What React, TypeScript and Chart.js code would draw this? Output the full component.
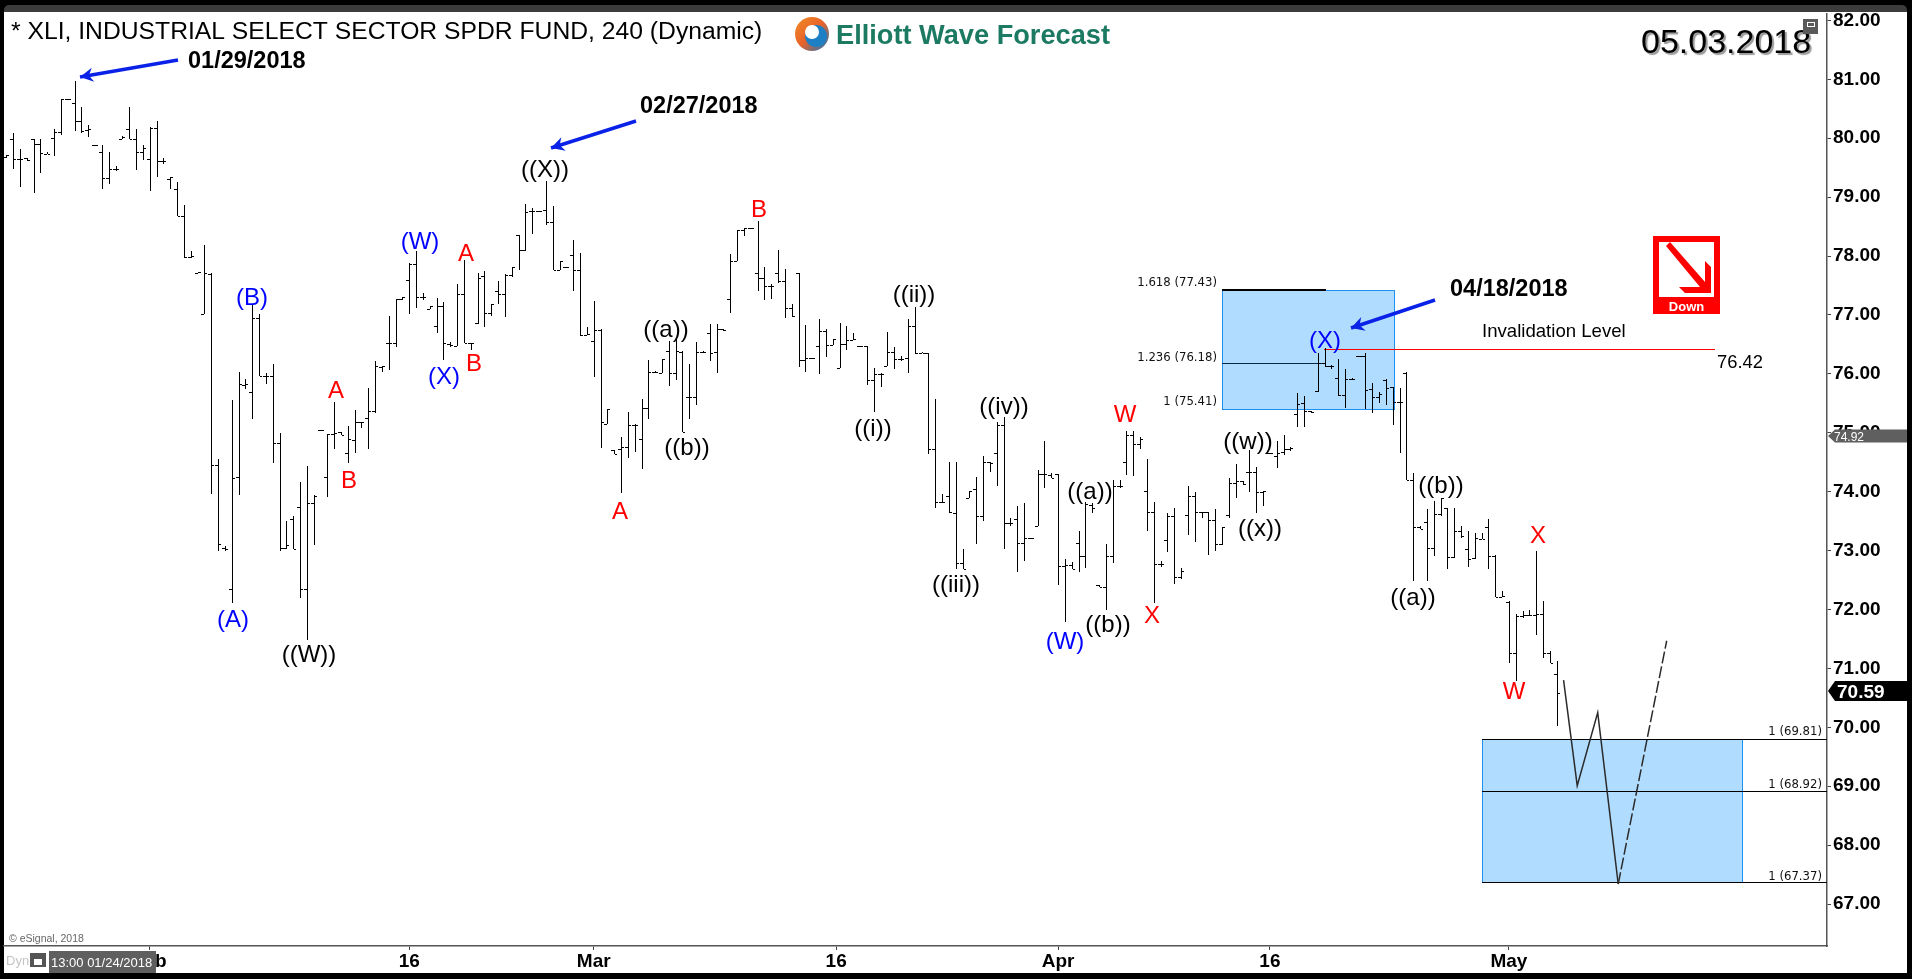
import { Chart, registerables } from "chart.js";
import { useEffect, useRef } from "react";

Chart.register(...registerables);

// 240 minute bars
const opens = [
  79.68,79.99,79.64,79.66,79.98,79.91,79.74,80.01,80.10,80.67,
  80.60,80.30,80.14,79.88,79.76,79.32,79.47,79.98,80.15,79.98,
  79.76,79.64,80.17,79.62,79.31,79.13,78.68,77.98,77.71,77.01,
  77.69,74.46,73.04,72.34,74.25,75.81,75.69,76.95,75.96,75.97,
  74.83,73.04,73.54,73.74,72.34,73.81,75.05,74.25,74.98,75.01,
  74.66,74.88,75.19,75.25,75.37,76.12,76.52,76.52,77.27,77.59,
  77.87,77.31,77.10,76.81,77.16,76.51,76.47,77.35,76.52,76.86,
  77.66,77.03,77.40,77.35,77.68,78.36,78.10,78.76,78.76,78.79,
  78.57,77.77,77.81,78.01,77.76,76.66,76.56,76.75,75.15,74.70,
  74.73,74.76,75.13,74.89,75.42,76.03,76.02,76.39,76.01,76.37,
  75.60,75.60,76.37,76.69,76.37,76.76,77.27,77.91,78.44,78.47,
  77.71,77.62,77.49,77.71,77.57,77.11,77.71,76.23,76.27,76.47,
  76.73,76.49,76.10,76.50,76.58,76.47,76.47,75.90,75.99,76.14,
  76.37,76.25,76.27,76.81,76.35,76.35,74.72,73.82,73.93,73.64,
  72.79,73.90,74.05,73.59,74.50,74.66,75.14,73.47,73.53,73.13,
  73.21,73.42,74.30,74.29,74.30,72.74,72.75,73.13,72.91,73.78,
  72.42,72.39,72.91,74.09,74.50,74.96,74.81,74.01,73.65,72.77,
  73.18,73.59,72.55,73.60,73.93,73.65,73.65,73.52,73.12,73.61,
  74.15,74.18,74.33,74.34,74.00,74.66,74.60,74.68,74.73,75.32,
  75.50,75.37,75.71,76.18,76.14,75.93,75.64,75.92,76.31,76.31,
  75.74,75.60,75.89,75.77,75.53,76.02,74.19,73.40,73.48,73.05,
  73.62,73.72,72.89,73.33,73.02,72.88,73.20,73.40,72.91,72.21,
  72.12,71.27,71.89,71.90,71.90,71.93,71.27,70.91,
];
const highs = [
  79.72,80.09,79.81,79.67,79.98,79.98,79.77,80.16,80.67,80.67,
  80.97,80.53,80.22,79.88,79.88,79.76,79.53,80.03,80.53,80.16,
  79.89,80.19,80.29,79.66,79.35,79.25,78.86,78.09,77.73,78.18,
  77.71,74.56,73.08,75.56,76.03,75.92,77.17,77.02,76.02,76.16,
  75.00,73.51,73.59,74.17,74.44,73.94,75.05,74.98,75.53,75.01,
  75.12,75.39,75.19,75.76,76.21,76.13,76.99,77.27,77.30,77.89,
  78.09,77.37,77.16,77.29,77.22,76.54,77.52,77.93,76.53,77.71,
  77.75,77.19,77.58,77.69,77.81,78.36,78.89,78.81,78.76,79.28,
  78.85,77.92,77.81,78.27,78.05,76.79,77.24,76.76,75.41,74.70,
  74.92,75.36,75.15,75.58,76.23,76.05,76.25,76.56,76.60,76.38,
  76.16,76.54,76.38,76.85,76.85,76.77,78.03,78.45,78.47,78.47,
  78.59,77.81,77.52,78.10,77.78,77.18,77.71,76.83,76.27,76.93,
  76.76,76.60,76.86,76.81,76.70,76.47,76.47,76.10,76.02,76.71,
  76.46,76.30,76.93,77.14,76.37,76.35,75.58,73.96,74.51,74.51,
  73.03,74.02,74.25,74.61,74.51,75.18,75.26,73.56,73.75,73.81,
  73.21,74.36,74.86,74.32,74.30,72.85,72.80,73.34,73.83,73.80,
  72.42,73.12,74.19,74.20,75.03,75.03,74.92,74.56,73.83,72.83,
  73.64,73.72,72.71,74.10,74.00,73.66,73.66,73.71,73.40,74.24,
  74.47,74.18,74.71,74.42,74.02,74.66,74.86,74.97,74.76,75.68,
  75.63,75.37,76.35,76.44,76.15,76.25,76.08,75.93,76.31,76.35,
  75.84,75.70,75.91,75.78,75.76,76.04,74.32,73.41,73.71,73.85,
  73.89,73.72,73.72,73.41,73.34,73.30,73.30,73.54,72.93,72.32,
  72.14,71.93,71.98,72.00,73.00,72.15,71.30,71.13,
];
const lows = [
  79.67,79.48,79.18,79.62,79.07,79.41,79.73,79.70,80.05,80.67,
  80.12,80.09,80.02,79.88,79.13,79.22,79.44,79.98,79.98,79.46,
  79.63,79.11,79.35,79.57,79.14,78.68,77.97,77.96,77.71,77.01,
  73.96,73.00,73.00,72.11,73.94,75.74,75.24,75.96,75.82,74.48,
  72.99,73.02,73.02,72.19,71.48,73.10,75.05,73.91,74.73,74.96,
  74.48,74.65,75.08,74.72,75.33,76.03,76.07,76.45,77.25,77.02,
  77.12,77.25,77.10,76.70,76.24,76.46,76.47,76.52,76.41,76.84,
  76.80,76.98,77.18,76.97,77.64,77.77,78.09,78.37,78.76,78.53,
  77.77,77.76,77.81,77.41,76.64,76.66,75.94,74.75,75.15,74.64,
  73.97,74.58,74.67,74.38,75.24,76.01,76.02,75.79,75.89,75.01,
  75.24,75.47,76.35,76.22,76.02,76.72,77.03,77.91,78.34,78.47,
  77.41,77.26,77.27,77.55,76.95,76.97,76.12,76.04,76.27,75.99,
  76.29,76.49,76.10,76.41,76.58,76.47,75.81,75.36,75.78,76.14,
  76.09,76.21,76.02,76.34,76.35,74.64,73.72,73.80,73.64,72.68,
  72.68,73.90,73.12,73.50,74.34,74.09,73.03,73.42,72.63,72.82,
  73.21,73.42,74.07,74.23,72.41,71.78,72.69,72.63,72.70,73.63,
  72.39,72.00,72.79,74.07,74.29,74.27,74.73,73.34,72.11,72.72,
  72.97,72.43,72.51,73.27,73.14,73.56,72.92,72.99,73.10,73.56,
  73.89,74.12,74.00,73.63,73.75,74.66,74.41,74.63,74.69,75.09,
  75.09,75.33,75.70,76.12,76.09,75.63,75.42,75.89,76.31,75.40,
  75.33,75.50,75.47,75.14,74.65,74.19,72.48,73.36,72.48,72.90,
  73.59,72.68,72.88,73.21,72.72,72.85,73.19,72.68,72.21,72.21,
  71.09,70.78,71.86,71.89,71.56,71.17,71.09,70.02,
];
const closes = [
  79.72,79.64,79.65,79.63,79.91,79.75,79.74,80.10,80.67,80.67,
  80.30,80.12,80.15,79.88,79.32,79.47,79.48,80.02,79.98,79.76,
  79.84,80.17,79.62,79.62,79.35,78.68,77.98,78.00,77.73,77.71,
  74.46,73.12,73.02,74.24,75.82,75.82,76.95,75.96,75.97,74.83,
  73.04,73.09,73.03,72.34,73.81,73.92,75.05,74.98,75.00,74.97,
  74.90,75.19,75.18,75.37,76.13,76.13,76.52,77.27,77.30,77.87,
  77.31,77.31,77.16,77.16,76.53,76.49,77.35,76.52,76.52,77.63,
  77.03,77.18,77.35,77.68,77.81,78.10,78.75,78.76,78.76,78.57,
  77.77,77.92,77.81,77.76,76.66,76.67,76.75,75.18,75.41,74.64,
  74.76,75.13,75.14,75.42,76.04,76.03,76.25,76.01,76.38,75.01,
  75.60,76.37,76.37,76.36,76.76,76.75,77.91,78.44,78.47,78.47,
  77.62,77.49,77.49,77.57,77.11,76.98,76.23,76.27,76.27,76.73,
  76.49,76.60,76.50,76.57,76.59,76.47,75.90,75.99,76.00,76.37,
  76.25,76.25,76.81,76.35,76.36,74.72,73.82,73.82,73.65,72.79,
  72.68,74.02,73.59,74.51,74.49,75.14,73.47,73.47,73.13,73.21,
  73.21,74.30,74.30,74.24,72.74,72.76,72.69,72.91,73.79,73.73,
  72.39,72.90,74.09,74.10,74.96,74.81,74.90,73.65,72.77,72.77,
  73.59,72.55,72.65,73.93,73.66,73.65,73.52,73.12,73.40,74.15,
  74.18,74.13,74.34,74.00,74.01,74.66,74.66,74.73,74.74,75.49,
  75.37,75.36,76.18,76.14,76.14,75.64,75.92,75.92,76.31,75.72,
  75.60,75.66,75.76,75.53,75.53,74.19,73.40,73.37,73.05,73.62,
  73.89,72.89,73.33,73.25,72.86,73.21,73.20,72.91,72.21,72.23,
  71.27,71.89,71.91,71.90,71.93,71.27,71.09,70.59,
];

const yTickValues = [67, 68, 69, 70, 71, 72, 73, 74, 75, 76, 77, 78, 79, 80, 81, 82];
const xTickValues = [21, 59, 86, 121.5, 154, 185, 220];
const xTickLabels = ["Feb", "16", "Mar", "16", "Apr", "16", "May"];

// forecast path after the last bar
const pathX = [228, 230, 233, 236];
const pathY = [70.8, 69.01, 70.25, 67.34];
const dashX = [236, 243.1];
const dashY = [67.34, 71.47];

const invalidation = 76.42;
const upperFibs = [
  { name: "1.618", level: 77.43 },
  { name: "1.236", level: 76.18 },
  { name: "1", level: 75.41 },
];
const lowerFibs = [69.81, 68.92, 67.37];

const waveLabels: [string, string, number, number][] = [
  ["(B)", "#0000ff", 252, 298], ["(W)", "#0000ff", 420, 242], ["A", "#ff0000", 466, 254],
  ["((X))", "#000", 545, 170], ["(A)", "#0000ff", 233, 620], ["((W))", "#000", 309, 655],
  ["A", "#ff0000", 336, 391], ["B", "#ff0000", 349, 481], ["(X)", "#0000ff", 444, 377],
  ["B", "#ff0000", 474, 364], ["A", "#ff0000", 620, 512], ["((a))", "#000", 666, 330],
  ["((b))", "#000", 687, 448], ["B", "#ff0000", 759, 210], ["((ii))", "#000", 914, 295],
  ["((i))", "#000", 873, 429], ["((iv))", "#000", 1004, 407], ["((iii))", "#000", 956, 585],
  ["W", "#ff0000", 1125, 415], ["((a))", "#000", 1090, 492], ["(W)", "#0000ff", 1065, 642],
  ["((b))", "#000", 1108, 625], ["X", "#ff0000", 1152, 616], ["((w))", "#000", 1248, 442],
  ["((x))", "#000", 1260, 529], ["(X)", "#0000ff", 1325, 341], ["((a))", "#000", 1413, 598],
  ["((b))", "#000", 1441, 486], ["W", "#ff0000", 1514, 692], ["X", "#ff0000", 1538, 536],
];

const SANS = '"Liberation Sans", Arial, sans-serif';

function drawArrow(ctx: CanvasRenderingContext2D, x1: number, y1: number, x2: number, y2: number) {
  const a = Math.atan2(y2 - y1, x2 - x1);
  ctx.strokeStyle = "#0a22e8";
  ctx.fillStyle = "#0a22e8";
  ctx.lineWidth = 3.5;
  ctx.beginPath();
  ctx.moveTo(x1, y1);
  ctx.lineTo(x2, y2);
  ctx.stroke();
  ctx.beginPath();
  ctx.moveTo(x2, y2);
  ctx.lineTo(x2 - 15 * Math.cos(a - 0.5), y2 - 15 * Math.sin(a - 0.5));
  ctx.lineTo(x2 - 9 * Math.cos(a), y2 - 9 * Math.sin(a));
  ctx.lineTo(x2 - 15 * Math.cos(a + 0.5), y2 - 15 * Math.sin(a + 0.5));
  ctx.closePath();
  ctx.fill();
}

function text(ctx: CanvasRenderingContext2D, s: string, x: number, y: number, font: string, color: string, align: CanvasTextAlign = "left") {
  ctx.font = font;
  ctx.fillStyle = color;
  ctx.textAlign = align;
  ctx.fillText(s, x, y);
}

const pagePlugin = {
  id: "page",
  beforeDraw(chart: any) {
    const ctx = chart.ctx;
    ctx.save();
    ctx.fillStyle = "#000";
    ctx.fillRect(0, 0, 1912, 979);
    ctx.fillStyle = "#3c3c3c";
    ctx.beginPath();
    ctx.roundRect(4, 5, 1903, 12, [5, 5, 0, 0]);
    ctx.fill();
    ctx.fillStyle = "#fff";
    ctx.fillRect(4, 12, 1903, 961);
    ctx.restore();
  },
  beforeDatasetsDraw(chart: any) {
    const { ctx, scales } = chart;
    const sx = scales.x;
    const sy = scales.y;
    const px = (v: number) => Math.round(sx.getPixelForValue(v));
    const py = (v: number) => Math.round(sy.getPixelForValue(v));
    ctx.save();
    ctx.textBaseline = "alphabetic";

    // fib boxes
    const box = (x1: number, x2: number, top: number, bottom: number) => {
      ctx.fillStyle = "#b0dcff";
      ctx.fillRect(px(x1), py(top), px(x2) - px(x1), py(bottom) - py(top));
      ctx.strokeStyle = "#1e90f0";
      ctx.lineWidth = 1;
      ctx.strokeRect(px(x1) + 0.5, py(top) + 0.5, px(x2) - px(x1), py(bottom) - py(top));
    };
    box(178, 203.1, upperFibs[0].level, upperFibs[2].level);
    box(216.1, 254.1, lowerFibs[0], lowerFibs[2]);

    // fib levels
    ctx.fillStyle = "#000";
    ctx.fillRect(px(178), py(upperFibs[0].level) - 1, px(193.2) - px(178), 2);
    ctx.fillStyle = "#002a44";
    ctx.fillRect(px(178), py(upperFibs[1].level), px(193.2) - px(178), 1);
    ctx.fillStyle = "#000";
    lowerFibs.forEach((f) => ctx.fillRect(px(216.1), py(f), sx.right - px(216.1), 1));
    ctx.fillStyle = "#ff0000";
    ctx.fillRect(px(192.9), py(invalidation), px(250.2) - px(192.9), 1);

    // ohlc bars
    ctx.fillStyle = "#000";
    opens.forEach((o, i) => {
      const x = px(i);
      const h = py(highs[i]);
      const l = py(lows[i]);
      ctx.fillRect(x, h, 1, Math.max(l - h, 1));
      ctx.fillRect(x - 3, py(o), 3, 1);
      ctx.fillRect(x + 1, py(closes[i]), 2, 1);
    });
    ctx.restore();
  },
  afterDraw(chart: any) {
    const ctx = chart.ctx;
    ctx.save();
    ctx.textBaseline = "alphabetic";

    text(ctx, "* XLI, INDUSTRIAL SELECT SECTOR SPDR FUND, 240 (Dynamic)", 11, 39, `24.7px ${SANS}`, "#000");

    // logo
    const g = ctx.createLinearGradient(796, 18, 828, 50);
    g.addColorStop(0, "#f08a24");
    g.addColorStop(0.5, "#e8622a");
    g.addColorStop(1, "#1d76b8");
    ctx.fillStyle = g;
    ctx.beginPath();
    ctx.arc(812, 34, 17, 0, Math.PI * 2);
    ctx.fill();
    ctx.fillStyle = "#1d7fc4";
    ctx.beginPath();
    ctx.arc(816, 36, 11, 0, Math.PI * 2);
    ctx.fill();
    ctx.fillStyle = "#fff";
    ctx.beginPath();
    ctx.arc(812, 32, 7, 0, Math.PI * 2);
    ctx.fill();
    text(ctx, "Elliott Wave Forecast", 836, 44, `bold 27.2px ${SANS}`, "#1d7a62");

    // date stamp
    ctx.shadowColor = "#999";
    ctx.shadowOffsetX = 2;
    ctx.shadowOffsetY = 2;
    ctx.shadowBlur = 1;
    text(ctx, "05.03.2018", 1641, 53, `34px ${SANS}`, "#000");
    ctx.shadowColor = "transparent";
    ctx.shadowOffsetX = 0;
    ctx.shadowOffsetY = 0;
    ctx.shadowBlur = 0;
    ctx.fillStyle = "#5a5a5a";
    ctx.fillRect(1803, 19, 15, 15);
    ctx.strokeStyle = "#fff";
    ctx.lineWidth = 1;
    ctx.strokeRect(1807.5, 22.5, 7, 4);

    // arrows and dates
    drawArrow(ctx, 178, 60, 80, 77);
    text(ctx, "01/29/2018", 188, 68, `bold 23.5px ${SANS}`, "#000");
    drawArrow(ctx, 636, 121, 551, 148);
    text(ctx, "02/27/2018", 640, 113, `bold 23.5px ${SANS}`, "#000");
    drawArrow(ctx, 1435, 300, 1351, 328);
    text(ctx, "04/18/2018", 1450, 296, `bold 23.5px ${SANS}`, "#000");

    // wave labels
    ctx.textBaseline = "middle";
    waveLabels.forEach(([s, color, x, y]) => text(ctx, s, x, y, `24px ${SANS}`, color, "center"));
    ctx.textBaseline = "alphabetic";

    // fib labels
    const small = '11.7px "DejaVu Sans", sans-serif';
    const upperY = [286, 361, 405];
    upperFibs.forEach((f, i) => text(ctx, `${f.name} (${f.level.toFixed(2)})`, 1217, upperY[i], small, "#111", "right"));
    const lowerY = [735, 788, 880];
    lowerFibs.forEach((f, i) => text(ctx, `1 (${f.toFixed(2)})`, 1822, lowerY[i], small, "#111", "right"));

    text(ctx, "Invalidation Level", 1482, 337, `18.6px ${SANS}`, "#000");
    text(ctx, "76.42", 1717, 368, `18.4px ${SANS}`, "#000");

    // down box
    ctx.fillStyle = "#ff0000";
    ctx.fillRect(1653, 236, 67, 78);
    ctx.fillStyle = "#fff";
    ctx.fillRect(1659, 242, 55, 55);
    ctx.fillStyle = "#ff0000";
    ctx.beginPath();
    ctx.moveTo(1666, 246);
    ctx.lineTo(1670, 242);
    ctx.lineTo(1705, 282);
    ctx.lineTo(1705, 261);
    ctx.lineTo(1711, 267);
    ctx.lineTo(1711, 293);
    ctx.lineTo(1685, 293);
    ctx.lineTo(1679, 287);
    ctx.lineTo(1700, 287);
    ctx.closePath();
    ctx.fill();
    text(ctx, "Down", 1686.5, 311, `bold 13px ${SANS}`, "#fff", "center");

    // price tags
    const tag = (y: number, h: number, color: string) => {
      ctx.fillStyle = color;
      ctx.beginPath();
      ctx.moveTo(1828, y);
      ctx.lineTo(1835, y - h);
      ctx.lineTo(1907, y - h);
      ctx.lineTo(1907, y + h);
      ctx.lineTo(1835, y + h);
      ctx.closePath();
      ctx.fill();
    };
    tag(436, 6.5, "#5f5f5f");
    text(ctx, "74.92", 1834, 441, `12px ${SANS}`, "#fff");
    tag(691, 10, "#000");
    text(ctx, "70.59", 1837, 698, `bold 19px ${SANS}`, "#fff");

    // bottom strip
    text(ctx, "\u00a9 eSignal, 2018", 9, 942, `10.5px ${SANS}`, "#666");
    text(ctx, "Dyn", 6, 965, `13px ${SANS}`, "#c4c4c4");
    ctx.fillStyle = "#555";
    ctx.fillRect(30, 953, 16, 14);
    ctx.fillStyle = "#fff";
    ctx.fillRect(34, 959, 8, 6);
    ctx.fillStyle = "#5f5f5f";
    ctx.fillRect(49, 951, 107, 22);
    text(ctx, "13:00 01/24/2018", 51, 967, `13px ${SANS}`, "#fff");
    ctx.restore();
  },
};

export default function App() {
  const chartRef = useRef<HTMLCanvasElement | null>(null);

  useEffect(() => {
    if (!chartRef.current) return;
    const chartInstance = new Chart(chartRef.current, {
      type: "line",
      data: {
        datasets: [
          {
            label: "XLI close",
            data: closes.map((c, i) => ({ x: i, y: c })),
            showLine: false,
            pointRadius: 0,
          },
          {
            label: "Path",
            data: pathX.map((x, i) => ({ x, y: pathY[i] })),
            borderColor: "#2b2b2b",
            borderWidth: 1.5,
            pointRadius: 0,
          },
          {
            label: "Path dashed",
            data: dashX.map((x, i) => ({ x, y: dashY[i] })),
            borderColor: "#2b2b2b",
            borderWidth: 1.5,
            borderDash: [12, 3],
            pointRadius: 0,
          },
        ],
      },
      options: {
        animation: false,
        responsive: false,
        devicePixelRatio: 1,
        layout: { padding: { left: 4, right: 5, top: 12, bottom: 6 } },
        plugins: { legend: { display: false }, tooltip: { enabled: false } },
        scales: {
          x: {
            type: "linear",
            min: -0.341,
            max: 266.57,
            afterFit: (s: any) => { s.height = 27; },
            afterBuildTicks: (s: any) => { s.ticks = xTickValues.map((value) => ({ value })); },
            grid: { display: true, drawOnChartArea: false, drawTicks: true, tickLength: 4, color: "#444" },
            border: { display: true, color: "#555", width: 1.5 },
            ticks: {
              autoSkip: false,
              maxRotation: 0,
              padding: 0,
              color: "#000",
              font: { family: SANS, size: 19, weight: "bold" },
              callback: (v: any) => xTickLabels[xTickValues.indexOf(Number(v))],
            },
          },
          y: {
            type: "linear",
            position: "right",
            min: 66.288,
            max: 82.119,
            afterFit: (s: any) => { s.width = 80; },
            afterBuildTicks: (s: any) => { s.ticks = yTickValues.map((value) => ({ value })); },
            grid: { display: true, drawOnChartArea: false, drawTicks: true, tickLength: 4, color: "#444" },
            border: { display: true, color: "#555", width: 1.5 },
            ticks: {
              padding: 2,
              color: "#000",
              font: { family: SANS, size: 19, weight: "bold" },
              callback: (v: any) => Number(v).toFixed(2),
            },
          },
        },
      },
      plugins: [pagePlugin],
    } as any);
    return () => {
      chartInstance.destroy();
    };
  }, []);

  return (
    <div style={{ position: "fixed", left: 0, top: 0, width: 1912, height: 979, background: "#000" }}>
      <canvas ref={chartRef} width={1912} height={979} style={{ display: "block" }} />
    </div>
  );
}
